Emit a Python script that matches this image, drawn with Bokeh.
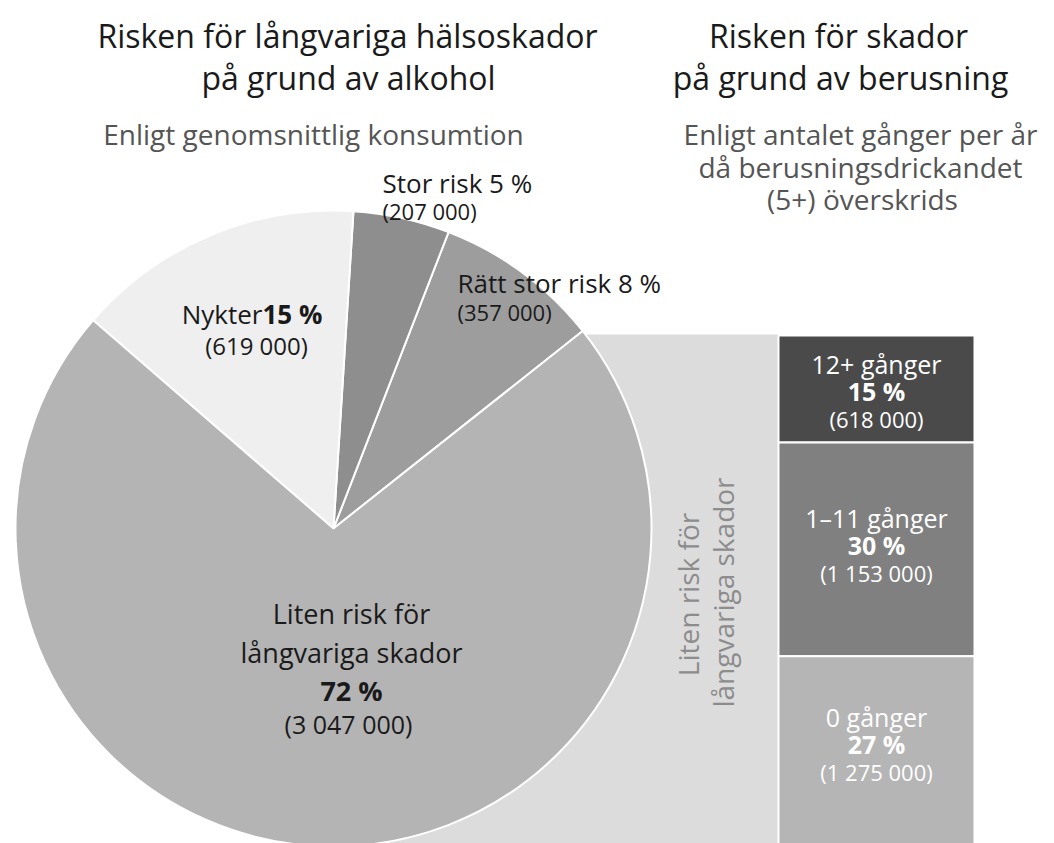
import math
from bokeh.plotting import figure
from bokeh.models import Range1d, ColumnDataSource
from bokeh.core.properties import value
from bokeh.embed import file_html
from bokeh.resources import INLINE

# ---- data ----
pie_names = ["Rätt stor risk", "Stor risk", "Nykter", "Liten risk för långvariga skador"]
pie_counts = [357000, 207000, 619000, 3047000]
pie_pct = [8, 5, 15, 72]
pie_count_labels = ["(357 000)", "(207 000)", "(619 000)", "(3 047 000)"]
pie_colors = ["#9d9d9d", "#8e8e8e", "#efefef", "#b4b4b4"]

bar_names = ["12+ gånger", "1–11 gånger", "0 gånger"]
bar_pct = [15, 30, 27]
bar_count_labels = ["(618 000)", "(1 153 000)", "(1 275 000)"]
bar_colors = ["#4a4a4a", "#808080", "#b5b5b5"]

FONT = value("Open Sans")

W, H = 1054, 843
p = figure(width=W, height=H, output_backend="svg", toolbar_location=None,
           x_range=Range1d(0, W), y_range=Range1d(-H, 0),
           min_border=0, outline_line_color=None, background_fill_color="white")
p.axis.visible = False
p.grid.visible = False

# layout
cx, cy, R = 333, -528, 318
start_deg = 38.4
bar_left, bar_right, bar_top = 778, 974, -335
px_per_pct = 7.13

# connector band (behind pie)
total_bar = sum(bar_pct) * px_per_pct
p.quad(left=[cx], right=[bar_left], top=[bar_top + 1], bottom=[bar_top - total_bar],
       fill_color="#dcdcdc", line_color=None)

# pie
tot = sum(pie_counts)
a = math.radians(start_deg)
starts, ends = [], []
for c in pie_counts:
    starts.append(a)
    a = a + 2 * math.pi * c / tot
    ends.append(a)
src = ColumnDataSource(dict(start=starts, end=ends, color=pie_colors))
p.wedge(x=cx, y=cy, radius=R, start_angle="start", end_angle="end", source=src,
        fill_color="color", line_color="white", line_width=2)

# bars
tops, bots = [], []
t = bar_top
for v in bar_pct:
    tops.append(t)
    t = t - v * px_per_pct
    bots.append(t)
p.quad(left=bar_left, right=bar_right, top=tops, bottom=bots, fill_color=bar_colors,
       line_color="white", line_width=2)

def txt(x, y, s, size, color="#1a1a1a", style="normal", align="center", angle=0):
    p.text(x=[x], y=[y], text=[s], text_font=FONT, text_font_size=f"{size}px",
           text_color=color, text_font_style=style, text_align=align,
           text_baseline="middle", angle=angle)

# titles
txt(347, -35, "Risken för långvariga hälsoskador", 32)
txt(348, -77, "på grund av alkohol", 32)
txt(838, -35, "Risken för skador", 32)
txt(840, -77, "på grund av berusning", 32)
txt(313, -133, "Enligt genomsnittlig konsumtion", 28, color="#555555")
txt(860, -133, "Enligt antalet gånger per år", 28, color="#555555")
txt(860, -166, "då berusningsdrickandet", 28, color="#555555")
txt(862, -198, "(5+) överskrids", 28, color="#555555")

# pie labels
txt(382, -182, f"{pie_names[1]} {pie_pct[1]} %", 26, align="left")
txt(382, -210, pie_count_labels[1], 22, align="left")
txt(457, -282, f"{pie_names[0]} {pie_pct[0]} %", 26, align="left")
txt(457, -311, pie_count_labels[0], 22, align="left")
txt(262, -313, pie_names[2], 26, align="right")
txt(262, -313, f"{pie_pct[2]} %", 26, align="left", style="bold")
txt(256, -345, pie_count_labels[2], 24)
txt(351, -613, "Liten risk för", 27)
txt(351, -652, "långvariga skador", 27)
txt(351, -690, f"{pie_pct[3]} %", 27, style="bold")
txt(348, -723, pie_count_labels[3], 25)

# rotated connector label
txt(687, -594, "Liten risk för", 28, color="#8c8c8c", angle=math.pi / 2)
txt(722, -592, "långvariga skador", 28, color="#8c8c8c", angle=math.pi / 2)

# bar labels
bx = (bar_left + bar_right) / 2
offs = [28, 76, 61]
for i in range(3):
    y0 = tops[i] - offs[i]
    txt(bx, y0, bar_names[i], 25, color="white")
    txt(bx, y0 - 27, f"{bar_pct[i]} %", 25, color="white", style="bold")
    txt(bx, y0 - 55, bar_count_labels[i], 22, color="white")

open("out.html", "w").write(file_html(p, INLINE))
